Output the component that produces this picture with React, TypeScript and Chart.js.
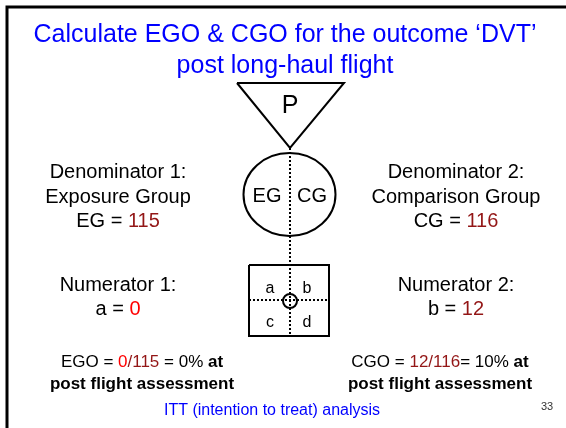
import React, { useEffect, useRef } from "react";
import { Chart, registerables } from "chart.js";

Chart.register(...registerables);

// ---- content / data ----
const TITLE_LINES = ["Calculate EGO & CGO for the outcome \u2018DVT\u2019", "post long-haul flight"];
const POPULATION = "P";
const GROUP_CODES = ["EG", "CG"];
const GROUP_NAMES = ["Exposure Group", "Comparison Group"];
const DENOMINATORS = [115, 116];
const CELL_LABELS = ["a", "b", "c", "d"];
const NUMERATOR_CELLS = ["a", "b"];
const NUMERATORS = [0, 12];
const OUTCOME_NAMES = ["EGO", "CGO"];
const PERCENTS = [0, 10];
const ASSESSMENT = "post flight assessment";
const FOOTER = "ITT (intention to treat) analysis";
const PAGE_NUMBER = "33";

// ---- layout (slide coordinates, 566 x 428) ----
const W = 566;
const H = 428;
const FONT = "'Liberation Sans', Arial, sans-serif";
const BLUE = "#0000ff";
const RED = "#ff0000";
const DARK_RED = "#931616";
const BLACK = "#000000";

const TRI = { left: 237, right: 344, top: 83, apex: 148 };
const ELL = { cx: 289.5, cy: 194.5, rx: 46, ry: 41.5 };
const BOX = { left: 249, right: 329, top: 265, bottom: 336, midY: 300 };
const AXIS_X = 290;
const LEFT_X = 118;
const RIGHT_X = 456;

type Run = { t: string; c?: string; b?: boolean };
type TextItem = { x: number; y: number; size: number; runs: Run[]; base?: CanvasTextBaseline };

function buildTexts(): TextItem[] {
  const items: TextItem[] = [];
  items.push({ x: 285, y: 42, size: 25, base: "alphabetic", runs: [{ t: TITLE_LINES[0], c: BLUE }] });
  items.push({ x: 285, y: 73, size: 25, base: "alphabetic", runs: [{ t: TITLE_LINES[1], c: BLUE }] });
  items.push({ x: 290, y: 113, size: 25, base: "alphabetic", runs: [{ t: POPULATION }] });
  items.push({ x: 267, y: 196, size: 20, runs: [{ t: GROUP_CODES[0] }] });
  items.push({ x: 312, y: 196, size: 20, runs: [{ t: GROUP_CODES[1] }] });
  const sideX = [LEFT_X, RIGHT_X];
  for (let i = 0; i < 2; i++) {
    items.push({ x: sideX[i], y: 172, size: 20, runs: [{ t: `Denominator ${i + 1}:` }] });
    items.push({ x: sideX[i], y: 197, size: 20, runs: [{ t: GROUP_NAMES[i] }] });
    items.push({
      x: sideX[i], y: 221, size: 20,
      runs: [{ t: `${GROUP_CODES[i]} = ` }, { t: String(DENOMINATORS[i]), c: DARK_RED }],
    });
    items.push({ x: sideX[i], y: 285, size: 20, runs: [{ t: `Numerator ${i + 1}:` }] });
    items.push({
      x: sideX[i], y: 309, size: 20,
      runs: [{ t: `${NUMERATOR_CELLS[i]} = ` }, { t: String(NUMERATORS[i]), c: NUMERATORS[i] === 0 ? RED : DARK_RED }],
    });
  }
  // cell letters
  const cellPos = [
    [270, 293], [307, 293], [270, 327], [307, 327],
  ];
  CELL_LABELS.forEach((l, i) => items.push({ x: cellPos[i][0], y: cellPos[i][1], size: 16, base: "alphabetic", runs: [{ t: l }] }));
  // outcome formulas
  items.push({
    x: 142, y: 362, size: 17,
    runs: [
      { t: `${OUTCOME_NAMES[0]} = ` },
      { t: String(NUMERATORS[0]), c: RED },
      { t: `/${DENOMINATORS[0]}`, c: DARK_RED },
      { t: ` = ${PERCENTS[0]}% ` },
      { t: "at", b: true },
    ],
  });
  items.push({
    x: 440, y: 362, size: 17,
    runs: [
      { t: `${OUTCOME_NAMES[1]} = ` },
      { t: `${NUMERATORS[1]}/${DENOMINATORS[1]}`, c: DARK_RED },
      { t: `= ${PERCENTS[1]}% ` },
      { t: "at", b: true },
    ],
  });
  items.push({ x: 142, y: 384, size: 17, runs: [{ t: ASSESSMENT, b: true }] });
  items.push({ x: 440, y: 384, size: 17, runs: [{ t: ASSESSMENT, b: true }] });
  items.push({ x: 272, y: 411, size: 16, runs: [{ t: FOOTER, c: BLUE }] });
  items.push({ x: 547, y: 407, size: 11, runs: [{ t: PAGE_NUMBER, c: "#333333" }] });
  return items;
}

const slidePlugin = {
  id: "slideText",
  afterDatasetsDraw(chart: any) {
    const ctx: CanvasRenderingContext2D = chart.ctx;
    const xs = chart.scales.x;
    const ys = chart.scales.y;
    ctx.save();
    // ellipse (EG | CG)
    const cx = xs.getPixelForValue(ELL.cx);
    const cy = ys.getPixelForValue(ELL.cy);
    const rx = Math.abs(xs.getPixelForValue(ELL.cx + ELL.rx) - cx);
    const ry = Math.abs(ys.getPixelForValue(ELL.cy + ELL.ry) - cy);
    ctx.beginPath();
    ctx.ellipse(cx, cy, rx, ry, 0, 0, Math.PI * 2);
    ctx.lineWidth = 2;
    ctx.strokeStyle = BLACK;
    ctx.stroke();

    for (const item of buildTexts()) {
      const fontFor = (r: Run) => `${r.b ? "bold " : ""}${item.size}px ${FONT}`;
      ctx.textBaseline = item.base || "middle";
      let total = 0;
      for (const r of item.runs) {
        ctx.font = fontFor(r);
        total += ctx.measureText(r.t).width;
      }
      let x = xs.getPixelForValue(item.x) - total / 2;
      const y = ys.getPixelForValue(item.y);
      ctx.textAlign = "left";
      for (const r of item.runs) {
        ctx.font = fontFor(r);
        ctx.fillStyle = r.c || BLACK;
        ctx.fillText(r.t, x, y);
        x += ctx.measureText(r.t).width;
      }
    }
    ctx.restore();
  },
};

function line(points: [number, number][], opts: any = {}) {
  return {
    type: "line" as const,
    data: points.map(([x, y]) => ({ x, y })),
    showLine: true,
    borderColor: BLACK,
    borderWidth: 2,
    pointRadius: 0,
    fill: false,
    tension: 0,
    clip: false,
    ...opts,
  };
}

export default function App() {
  const ref = useRef<HTMLCanvasElement | null>(null);
  useEffect(() => {
    if (!ref.current) return;
    const chart = new Chart(ref.current, {
      type: "scatter",
      data: {
        datasets: [
          line([[7, H], [7, 7], [W, 7]], { borderWidth: 3, borderJoinStyle: "miter" }),
          line([[TRI.left, TRI.top], [TRI.right, TRI.top], [AXIS_X, TRI.apex], [TRI.left, TRI.top]], { borderJoinStyle: "miter" }),
          line([[AXIS_X, TRI.apex], [AXIS_X, BOX.bottom]], { borderDash: [2, 2] }),
          line([[BOX.left, BOX.midY], [BOX.right, BOX.midY]], { borderDash: [2, 2] }),
          line([[BOX.left, BOX.top], [BOX.right, BOX.top], [BOX.right, BOX.bottom], [BOX.left, BOX.bottom], [BOX.left, BOX.top]], { borderJoinStyle: "miter" }),
          {
            type: "scatter" as const,
            data: [{ x: AXIS_X, y: BOX.midY + 1 }],
            pointRadius: 7,
            pointStyle: "circle",
            borderColor: BLACK,
            borderWidth: 2,
            backgroundColor: "rgba(0,0,0,0)",
            clip: false,
          },
        ] as any,
      },
      options: {
        animation: false,
        responsive: false,
        devicePixelRatio: 1,
        layout: { padding: 0, autoPadding: false },
        scales: {
          x: { type: "linear", min: 0, max: W, display: false },
          y: { type: "linear", min: 0, max: H, reverse: true, display: false },
        },
        plugins: { legend: { display: false }, tooltip: { enabled: false } },
        events: [],
      } as any,
      plugins: [slidePlugin],
    });
    return () => chart.destroy();
  }, []);
  return (
    <div style={{ position: "absolute", left: 0, top: 0, width: W, height: H, background: "#fff" }}>
      <canvas ref={ref} width={W} height={H} style={{ display: "block", width: W, height: H }} />
    </div>
  );
}
